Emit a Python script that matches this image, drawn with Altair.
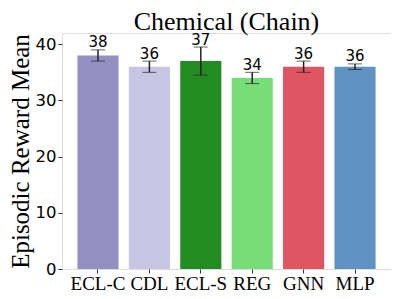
import altair as alt
import pandas as pd

methods = ["ECL-C", "CDL", "ECL-S", "REG", "GNN", "MLP"]
means = [38, 36, 37, 34, 36, 36]
errs = [1.0, 1.0, 2.5, 1.0, 1.0, 0.5]
colors = ["#9590C4", "#C8C5E3", "#228B22", "#77DD77", "#E05562", "#6093C2"]

df = pd.DataFrame({
    "method": methods,
    "mean": means,
    "lo": [m - e for m, e in zip(means, errs)],
    "hi": [m + e for m, e in zip(means, errs)],
    "label": [str(m) for m in means],
})

x = alt.X("method:N", sort=methods,
          scale=alt.Scale(paddingInner=0.2, paddingOuter=0.3),
          axis=alt.Axis(title=None, labelAngle=0, labelFont="Liberation Serif",
                        labelFontSize=19, labelColor="black", tickSize=4,
                        tickColor="#333333", domain=False, labelPadding=1))
yscale = alt.Scale(domain=[0, 42], nice=False)

bars = alt.Chart(df).mark_bar(opacity=1).encode(
    x=x,
    y=alt.Y("mean:Q", scale=yscale,
            axis=alt.Axis(title="Episodic Reward Mean", titleFont="Liberation Serif",
                          titleFontSize=25, titleFontWeight="normal", titleColor="black",
                          labelFont="DejaVu Sans", labelFontSize=16.5, labelColor="black",
                          values=[0, 10, 20, 30, 40], grid=False, tickSize=4,
                          tickColor="#333333", domain=False, titlePadding=2, labelPadding=2)),
    color=alt.Color("method:N", sort=methods,
                    scale=alt.Scale(domain=methods, range=colors), legend=None),
)

errbars = alt.Chart(df).mark_errorbar(ticks=alt.MarkConfig(size=14, color="#222222", strokeWidth=1.3),
                                      rule=alt.MarkConfig(color="#222222", strokeWidth=1.5)).encode(
    x=alt.X("method:N", sort=methods),
    y=alt.Y("lo:Q", scale=yscale, title="Episodic Reward Mean"),
    y2="hi:Q",
)

labels = alt.Chart(df).mark_text(font="DejaVu Sans", fontSize=15, color="black",
                                 baseline="alphabetic", dy=-2.5).encode(
    x=alt.X("method:N", sort=methods),
    y=alt.Y("hi:Q", scale=yscale),
    text="label:N",
)

chart = alt.layer(bars, errbars, labels).properties(
    width=329, height=236,
    padding={"left": 0, "top": 0, "right": 0, "bottom": 0},
    title=alt.TitleParams("Chemical (Chain)", font="Liberation Serif", fontSize=26,
                          fontWeight="normal", color="black", offset=-2),
).configure_view(stroke="#444444", strokeWidth=1.2).configure(background="white")

chart.save("out.html", embed_options={"renderer": "svg", "actions": False})
